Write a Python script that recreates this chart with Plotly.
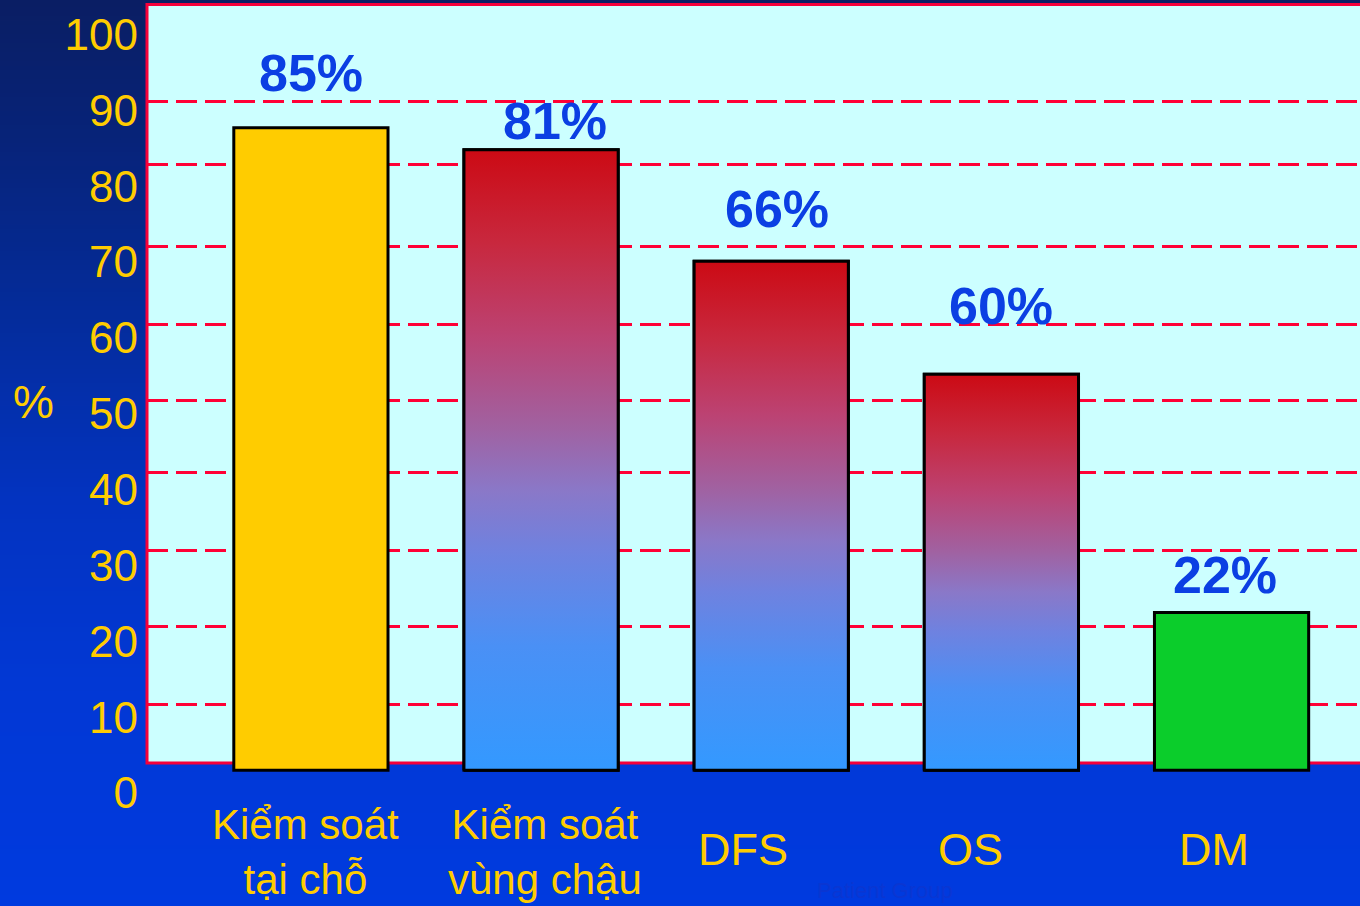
import base64
import struct
import zlib

import plotly.graph_objects as go

# ---------------- data ----------------
categories = ["Kiểm soát<br>tại chỗ", "Kiểm soát<br>vùng chậu", "DFS", "OS", "DM"]
bar_tops = [87.7, 84.8, 70.1, 55.2, 23.8]      # top of each bar on the % axis
bar_base = 3.0                                  # bars start a little above 0
label_values = [85, 81, 66, 60, 22]             # printed percentages
fill_kind = ["solid", "gradient", "gradient", "gradient", "solid"]
y_ticks = [0, 10, 20, 30, 40, 50, 60, 70, 80, 90, 100]
grid_levels = [11.7, 21.9, 32.0, 42.2, 51.7, 61.8, 72.1, 82.8, 91.2]

# ---------------- styling ----------------
W, H = 1360, 906
L, R, T, B = 147, 0, 3, 113
PW, PH = W - L - R, H - T - B
YMAX = (H - B - T) / 7.585                      # px per unit = 7.585
X_LO, X_HI = -0.7121, 4.558
BAR_W = 0.67

solid_colors = {0: "#FFCC00", 4: "#0BCD2B"}
grad_scale = [[0.0, "#3399FF"], [0.2, "#4A90F5"], [0.35, "#6E82E0"],
              [0.45, "#8A78C8"], [0.55, "#A062A2"], [0.7, "#BC4272"],
              [0.85, "#C8283E"], [1.0, "#CC0A14"]]
label_lift = [55, 29, 52, 68, 37]               # px gap label-centre above bar top
label_nudge = [0, 14, 6, 0, -7]                 # px horizontal nudge of value labels
cat_nudge = [-5, 4, -28, -31, -18]              # px horizontal nudge of category labels
YELLOW = "#FFCC00"
LABEL_BLUE = "#0B3FE3"
RED = "#F5003A"


def py(p):
    """pixel row -> paper y"""
    return (H - B - p) / PH


def px(p):
    """pixel col -> paper x"""
    return (p - L) / PW


# ---------------- background gradient image ----------------
def png_uri(rows):
    raw = b"".join(b"\x00" + bytes(c) * 2 for c in rows)

    def chunk(t, d):
        return struct.pack(">I", len(d)) + t + d + struct.pack(">I", zlib.crc32(t + d) & 0xFFFFFFFF)

    png = (b"\x89PNG\r\n\x1a\n"
           + chunk(b"IHDR", struct.pack(">IIBBBBB", 2, len(rows), 8, 2, 0, 0, 0))
           + chunk(b"IDAT", zlib.compress(raw, 9))
           + chunk(b"IEND", b""))
    return "data:image/png;base64," + base64.b64encode(png).decode()


bg_stops = [(0.0, (10, 30, 100)), (0.15, (7, 35, 121)), (0.35, (4, 44, 156)),
            (0.55, (3, 51, 192)), (0.75, (2, 56, 212)), (1.0, (0, 58, 223))]
rows = []
N = 200
for k in range(N):
    t = k / (N - 1)
    for (t0, c0), (t1, c1) in zip(bg_stops, bg_stops[1:]):
        if t0 <= t <= t1:
            f = (t - t0) / (t1 - t0)
            rows.append(tuple(int(round(a + (b - a) * f)) for a, b in zip(c0, c1)))
            break

fig = go.Figure()

# solid bars
xs = list(range(len(categories)))
fig.add_trace(go.Bar(
    x=xs, y=[t - bar_base for t in bar_tops], base=bar_base, width=BAR_W,
    marker=dict(color=[solid_colors.get(i, "rgba(0,0,0,0)") for i in xs],
                line=dict(color="black", width=3)),
    hoverinfo="skip", showlegend=False,
))

# gradient bars
for i, (top, kind) in enumerate(zip(bar_tops, fill_kind)):
    if kind != "gradient":
        continue
    x0, x1 = i - BAR_W / 2, i + BAR_W / 2
    fig.add_trace(go.Scatter(
        x=[x0, x1, x1, x0, x0], y=[bar_base, bar_base, top, top, bar_base],
        mode="lines", fill="toself",
        fillgradient=dict(type="vertical", colorscale=grad_scale),
        line=dict(color="black", width=3),
        yaxis="y2", hoverinfo="skip", showlegend=False,
    ))

annotations = []
for i, (top, v) in enumerate(zip(bar_tops, label_values)):
    annotations.append(dict(
        x=i, y=top, xref="x", yref="y", text=f"<b>{v}%</b>", showarrow=False,
        yanchor="middle", yshift=label_lift[i], xshift=label_nudge[i],
        font=dict(family="Liberation Sans, Arial", size=52, color=LABEL_BLUE)))

for i, c in enumerate(categories):
    short = "<br>" not in c
    annotations.append(dict(
        x=i, y=py(849 if short else 852), xref="x", yref="paper", text=c, showarrow=False,
        yanchor="middle", xanchor="center", xshift=cat_nudge[i],
        font=dict(family="Liberation Sans, Arial",
                  size=45 if short else 42, color=YELLOW)))

annotations.append(dict(
    x=px(33), y=py(402), xref="paper", yref="paper", text="%", showarrow=False,
    xanchor="center", yanchor="middle",
    font=dict(family="Liberation Sans, Arial", size=46, color=YELLOW)))

annotations.append(dict(
    x=px(885), y=py(905), xref="paper", yref="paper", text="Patient Group",
    showarrow=False, xanchor="center", yanchor="bottom",
    font=dict(family="Liberation Sans, Arial", size=22, color="#0A36D2")))

fig.update_layout(
    width=W, height=H,
    margin=dict(l=L, r=R, t=T, b=B, pad=0),
    paper_bgcolor="#003ADF",
    plot_bgcolor="rgba(0,0,0,0)",
    showlegend=False,
    xaxis=dict(range=[X_LO, X_HI], showgrid=False, zeroline=False, showline=False,
               showticklabels=False, ticks="", fixedrange=True),
    yaxis=dict(range=[0, YMAX], tickvals=y_ticks, ticktext=[str(v) for v in y_ticks],
               tickfont=dict(family="Liberation Sans, Arial", size=44, color=YELLOW),
               showgrid=False, zeroline=False, showline=False, ticks="",
               ticklabelstandoff=8, fixedrange=True),
    yaxis2=dict(range=[0, YMAX], overlaying="y", side="left", tickvals=grid_levels,
                showticklabels=False, showgrid=True, gridcolor="#FF0035", gridwidth=3,
                griddash="21px,8px", zeroline=False, showline=False, ticks="",
                fixedrange=True),
    images=[dict(source=png_uri(rows), xref="paper", yref="paper",
                 x=px(0), y=py(0), sizex=px(W) - px(0), sizey=py(0) - py(H),
                 xanchor="left", yanchor="top", sizing="stretch", layer="below")],
    shapes=[dict(type="rect", xref="paper", yref="y", x0=0, x1=1.02,
                 y0=(H - B - 763) / 7.585, y1=(H - B - 4.5) / 7.585,
                 fillcolor="#CCFFFF", line=dict(color=RED, width=3), layer="below")],
    annotations=annotations,
)

fig.write_html("out.html", config={"displayModeBar": False})
